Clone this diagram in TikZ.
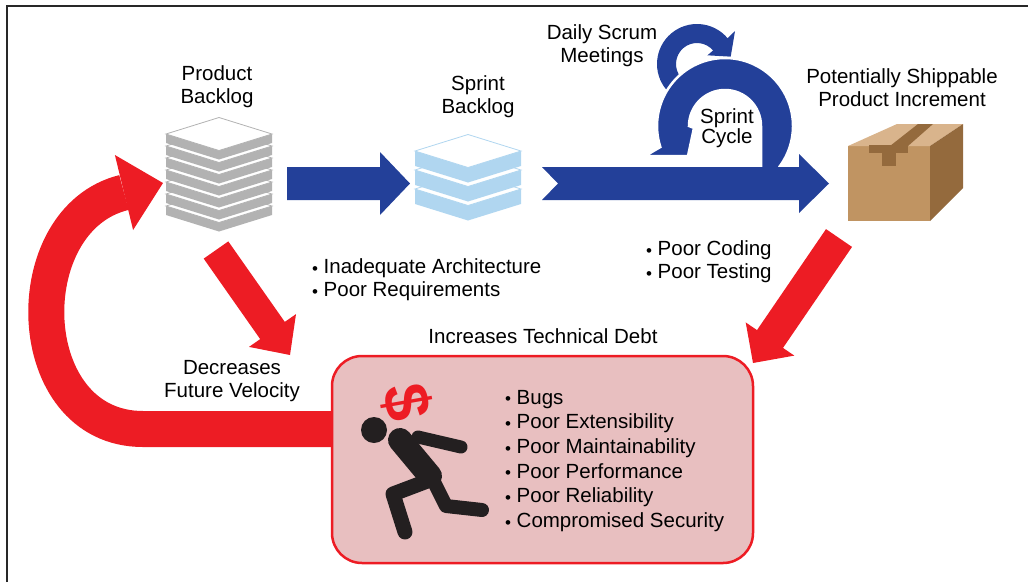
\documentclass[tikz,border=0pt]{standalone}
\usepackage{fontspec}
\setmainfont{Liberation Sans}
\definecolor{scrumblue}{RGB}{35,64,153}
\definecolor{sprintblue}{RGB}{176,214,240}
\definecolor{stackgray}{RGB}{178,178,178}
\definecolor{debtred}{RGB}{237,28,36}
\definecolor{debtfill}{RGB}{232,191,192}
\definecolor{boxfront}{RGB}{192,148,98}
\definecolor{boxtop}{RGB}{217,180,140}
\definecolor{boxside}{RGB}{148,106,61}
\definecolor{inkblack}{RGB}{35,31,32}
\definecolor{framecol}{RGB}{40,40,40}
\newcommand\bul{\makebox[11.5pt][l]{\fontsize{17}{17}\selectfont\raisebox{-0.6pt}{•}}}
\tikzset{
  lbl/.style={font=\fontsize{20.5}{23}\selectfont, align=center, inner sep=0pt, text=black},
  % one slab of a backlog stack: half width, half height, thickness, colour
  pics/slab/.style n args={4}{code={
    \fill[#4] (-#1,0) -- (0,#2) -- (#1,0) -- (#1,#3) -- (0,#2+#3) -- (-#1,#3) -- cycle;
    \filldraw[fill=white, draw=#4, line width=0.8] (-#1,0) -- (0,-#2) -- (#1,0) -- (0,#2) -- cycle;
  }},
  limb/.style={draw=inkblack, line cap=round, line join=round}
}
\begin{document}
\begin{tikzpicture}[x=1pt,y=-1pt]
\useasboundingbox (0,0) rectangle (1028,582);

% frame
\draw[framecol, line width=2] (7,582) -- (7,6) -- (1028,6);

% product backlog stack
\foreach \i in {6,5,...,0}
  \pic at (219,134+12*\i) {slab={53}{16.5}{9}{stackgray}};

% sprint backlog stack
\foreach \i in {2,1,0}
  \pic at (468,151+19*\i) {slab={53}{16.5}{15}{sprintblue}};

% arrow product backlog -> sprint backlog
\fill[scrumblue] (287,167) -- (380,167) -- (380,152) -- (410,183.5) -- (380,215) -- (380,200) -- (287,200) -- cycle;

% daily scrum loop
\fill[scrumblue] ([shift={(140:40)}]697,64) arc[start angle=140, end angle=320, radius=40]
  -- (735,31) -- (730.7,56.7) -- (707.4,55.3)
  -- ([shift={(320:21)}]697,64) arc[start angle=320, end angle=140, radius=21] -- cycle;

% sprint cycle loop
\filldraw[fill=scrumblue, draw=white, line width=2.5]
  ([shift={(37:68)}]725,126) arc[start angle=37, end angle=-198, radius=68]
  -- (645,156) -- (688,156) -- (694,128)
  -- ([shift={(180:36)}]725,126) arc[start angle=180, end angle=360, radius=36]
  -- (761,178) -- (781,178) -- cycle;

% sprint flow arrow
\fill[scrumblue] (542,167) -- (799,167) -- (799,154) -- (829,183.5) -- (799,213) -- (799,200) -- (542,200) -- (558,183.5) -- cycle;

% shippable box
\fill[boxfront] (848,146) rectangle (930,221);
\fill[boxtop] (848,146) -- (897,124) -- (963,124) -- (930,146) -- cycle;
\fill[boxside] (930,146) -- (963,124) -- (963,188) -- (930,221) -- cycle;
\fill[boxside] (918,124) -- (933,124) -- (908,146) -- (890,146) -- cycle;
\fill[boxside] (869,145) rectangle (908,153);
\fill[boxside] (882,152) rectangle (896,166);

% feedback arrow back to the product backlog
\draw[debtred, line width=36] (345,429) -- (143,429) .. controls (20,429) and (15,219) .. (124,192.5);
\fill[debtred] (114.9,155) -- (163,183) -- (133.1,230) -- cycle;

% technical debt panel
\filldraw[fill=debtfill, draw=debtred, line width=2.5, rounded corners=30] (332,356) rectangle (753,563);

% arrows into the debt panel
\fill[debtred] (228.3,241.4) -- (284.8,321.9) -- (296,314.1) -- (290,355) -- (249,346.9) -- (260.2,339.1) -- (203.7,258.6) -- cycle;
\fill[debtred] (826,229.1) -- (852,246.9) -- (783,347.9) -- (794.3,355.6) -- (753,363) -- (745.7,322.4) -- (757,330.1) -- cycle;

% runner carrying the debt
\fill[inkblack] (374,430) circle[radius=13];
\draw[limb, line width=24] (400,440) -- (430,476);
\draw[limb, line width=13] (418,437) -- (461,447);
\draw[limb, line width=15] (430,480) -- (393,494) -- (405,532);
\draw[limb, line width=14] (434,482) -- (446,506) -- (482,510);
\node[text=debtred, font=\bfseries\fontsize{64}{64}\selectfont, rotate=-80, inner sep=0pt] (dlr) at (407,402) {\$};

% labels
\node[lbl] (pb) at (217,87) {Product\\Backlog};
\node[lbl] (sb) at (478,97) {Sprint\\Backlog};
\node[lbl] (dsm) at (602,46) {Daily Scrum\\Meetings};
\node[lbl, font=\fontsize{20.5}{19}\selectfont] (sc) at (727,128) {Sprint\\Cycle};
\node[lbl] (psi) at (902,88) {Potentially Shippable\\Product Increment};
\node[lbl, align=left, anchor=west] (arch) at (312,280) {\bul Inadequate Architecture\\\bul Poor Requirements};
\node[lbl, align=left, anchor=west] (code) at (646,262) {\bul Poor Coding\\\bul Poor Testing};
\node[lbl] (dfv) at (232,381) {Decreases\\Future Velocity};
\node[lbl] (itd) at (543,336) {Increases Technical Debt};
\node[lbl, align=left, anchor=west, font=\fontsize{20.5}{24.7}\selectfont] (list) at (505,461)
  {\bul Bugs\\\bul Poor Extensibility\\\bul Poor Maintainability\\\bul Poor Performance\\\bul Poor Reliability\\\bul Compromised Security};
\end{tikzpicture}
\end{document}
